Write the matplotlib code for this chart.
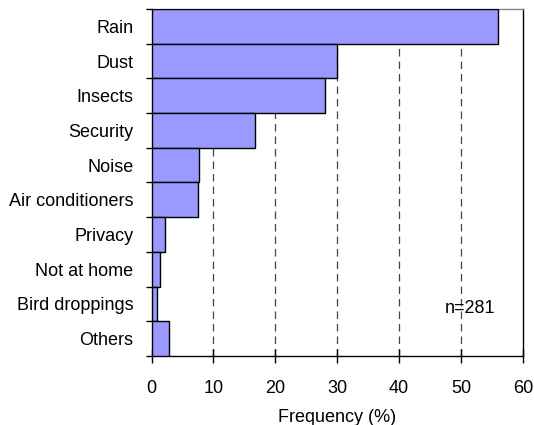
import matplotlib
matplotlib.use("Agg")
import matplotlib.pyplot as plt
import numpy as np

plt.rcParams['font.family'] = ['Liberation Sans', 'DejaVu Sans']

categories = ["Rain", "Dust", "Insects", "Security", "Noise", "Air conditioners",
              "Privacy", "Not at home", "Bird droppings", "Others"]
values = [56.0, 30.0, 28.0, 16.7, 7.7, 7.5, 2.1, 1.4, 0.9, 2.9]
xticks = [0, 10, 20, 30, 40, 50, 60]

fs = 13
fig = plt.figure(figsize=(5.34, 4.25), dpi=100)
ax = fig.add_axes([151.5/534, 1 - 356/425, (523 - 151.5)/534, (356 - 9)/425])

n = len(categories)
y = np.arange(n)
ax.barh(y, values, height=1.0, color="#9999FF", edgecolor="black", linewidth=1.0, zorder=3)
ax.set_ylim(n - 0.5, -0.5)
ax.set_xlim(0, 60)
ax.set_xticks(xticks)
ax.set_xticklabels([str(t) for t in xticks], fontsize=fs)

ax.set_yticks(y)
ax.set_yticklabels(categories, fontsize=fs)
ax.set_yticks(np.arange(n + 1) - 0.5, minor=True)
ax.tick_params(axis='y', which='major', length=0, pad=13)
ax.tick_params(axis='y', which='minor', length=4, width=1, direction='out')
ax.tick_params(axis='x', which='major', length=10, width=1, direction='inout', pad=12)

for t in xticks[1:-1]:
    ax.axvline(t, color="#444444", linestyle=(0, (6, 4)), linewidth=0.9, zorder=1)

for s in ["left", "bottom", "right"]:
    ax.spines[s].set_color("black")
    ax.spines[s].set_linewidth(1.0)
ax.spines["top"].set_color("#888888")
ax.spines["top"].set_linewidth(1.0)

ax.text(51.4, 0.138, "n=281", transform=ax.get_xaxis_transform(),
        ha="center", va="center", fontsize=fs)
ax.set_xlabel("Frequency (%)", fontsize=fs, labelpad=9)

fig.savefig("out.png", dpi=100)
